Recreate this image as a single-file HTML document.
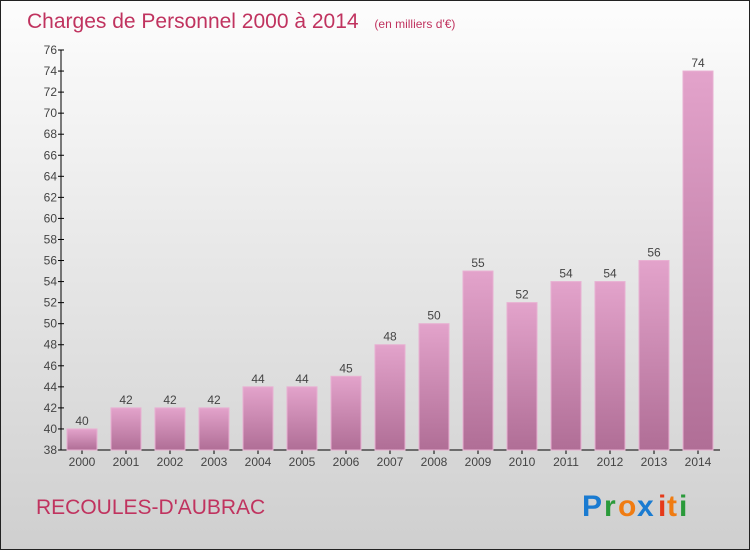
<!DOCTYPE html>
<html><head><meta charset="utf-8"><style>
body{margin:0;width:750px;height:550px;overflow:hidden;font-family:"Liberation Sans","DejaVu Sans",sans-serif}
</style></head><body>
<svg width="750" height="550" xmlns="http://www.w3.org/2000/svg">
<defs>
<linearGradient id="bg" x1="0" y1="0" x2="0" y2="1"><stop offset="0" stop-color="#fdfdfd"/><stop offset="1" stop-color="#cfcfcf"/></linearGradient>
<linearGradient id="bar" x1="0" y1="0" x2="0" y2="1"><stop offset="0" stop-color="#e3a3cb"/><stop offset="1" stop-color="#b06e96"/></linearGradient>
</defs>
<rect x="0.5" y="0.5" width="749" height="549" fill="url(#bg)" stroke="#222"/>
<text x="27" y="28" font-size="21" fill="#c0335f">Charges de Personnel 2000 à 2014 <tspan font-size="12" dx="10">(en milliers d'€)</tspan></text>
<g id="axes"></g><g id="bars"></g>
<text x="36" y="514" font-size="21" fill="#c0335f">RECOULES-D'AUBRAC</text>
<g font-size="30" font-weight="bold">
<text x="582" y="516" fill="#1a7bd1">P</text><text x="604" y="516" fill="#2a9a3a">r</text><text x="618" y="516" fill="#f07c12">o</text><text x="637" y="516" fill="#1a7bd1">x</text><text x="658" y="516" fill="#e53a1a">i</text><text x="667" y="516" fill="#f07c12">t</text><text x="679" y="516" fill="#2a9a3a">i</text>
</g>
</svg>
<script>
const categories=["2000","2001","2002","2003","2004","2005","2006","2007","2008","2009","2010","2011","2012","2013","2014"];
const values=[40,42,42,42,44,44,45,48,50,55,52,54,54,56,74];
const yTicks=[38,40,42,44,46,48,50,52,54,56,58,60,62,64,66,68,70,72,74,76];
const NS="http://www.w3.org/2000/svg";
const yMin=38,yMax=76,y0=450,y1=50,xLeft=61,xRight=720,x0=82,step=44,bw=30;
const y=v=>y0-(v-yMin)/(yMax-yMin)*(y0-y1);
const x=i=>x0+i*step;
function mk(t,a,p){const e=document.createElementNS(NS,t);for(const k in a)e.setAttribute(k,a[k]);p.appendChild(e);return e;}
const ax=document.getElementById('axes'),bg=document.getElementById('bars');
let l=mk('line',{x1:xLeft,y1:y1,x2:xLeft,y2:y0,stroke:'#000'},ax);

l=mk('line',{x1:xLeft,y1:y0,x2:xRight,y2:y0,stroke:'#000'},ax);

yTicks.forEach(t=>{mk('line',{x1:xLeft-3,x2:xLeft+3,y1:y(t),y2:y(t),stroke:'#000'},ax);
const tx=mk('text',{x:xLeft-4,y:y(t)+4,'font-size':12,fill:'#444','text-anchor':'end'},ax);tx.textContent=t;
});
categories.forEach((c,i)=>{
mk('line',{x1:x(i),x2:x(i),y1:y0,y2:y0+4,stroke:'#000'},ax);
const tx=mk('text',{x:x(i),y:y0+16,'font-size':12,fill:'#444','text-anchor':'middle'},ax);tx.textContent=c;

const r=mk('rect',{x:x(i)-bw/2,y:y(values[i]),width:bw,height:y0-y(values[i]),fill:'url(#bar)',stroke:'#e8b0d2','stroke-width':1},bg);

const vl=mk('text',{x:x(i),y:y(values[i])-4,'font-size':12,fill:'#444','text-anchor':'middle'},bg);vl.textContent=values[i];

});
</script>
</body></html>
